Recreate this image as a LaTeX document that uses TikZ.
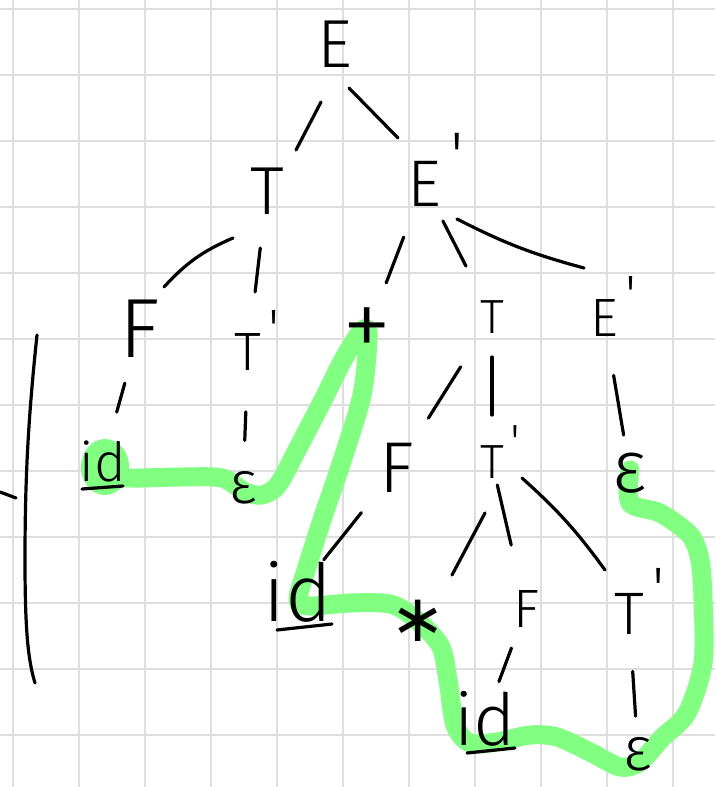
\documentclass[tikz,border=0pt]{standalone}
\usepackage{fontspec}
\setmainfont{Fira Sans Light}
\newfontfamily\dejavu{DejaVu Sans}
\usepackage{xcolor}
\usetikzlibrary{calc}
\definecolor{hilite}{RGB}{128,255,128}
\definecolor{gridgray}{RGB}{222,222,222}
\newcommand{\pr}{\rlap{\hspace{.14em}\smash{\raisebox{.42em}{\textquotesingle}}}}
\tikzset{
  sym/.style={font=\fontsize{#1}{#1}\selectfont, inner sep=0pt},
  sym/.default=58,
  pen/.style={line width=3.2pt, line cap=round, line join=round, draw=black},
  edge/.style={pen},
  gridln/.style={line width=1.8pt, draw=gridgray},
  hl/.style={line width=19pt, draw=hilite, line cap=round, line join=round},
}

\begin{document}
\begin{tikzpicture}[x=1pt, y=-1pt]
  \useasboundingbox (0,0) rectangle (715,787);
  \fill[white] (0,0) rectangle (715,787);
  \foreach \gx in {13,79,...,673} \draw[gridln] (\gx,0) -- (\gx,787);
  \foreach \gy in {9,75,...,735} \draw[gridln] (0,\gy) -- (715,\gy);

  \fill[hilite] (105,467) ellipse (24 and 28);
  \draw[hl] plot[smooth, tension=.5] coordinates {(110,474) (130,478) (180,477) (222,478)
    (245,492) (262,495) (278,485) (297,450) (323,400) (343,360) (360,333) (368,333) (362,395)
    (340,467) (323,517) (307,567) (298,600) (310,606) (350,603) (390,604) (413,617) (440,645)
    (448,680) (455,725) (470,743) (497,742) (530,735) (557,737) (590,752) (620,767) (640,762)
    (662,738) (687,713) (703,663) (703,600) (700,560) (690,535) (660,513) (630,503) (630,470)};

  \node[sym=68] (E0) at (335,44) {E};
  \node[sym=68] (T1) at (267,191) {T};
  \node[sym=66] (E1) at (424,184) {E\pr};
  \node[sym=84] (F2) at (140,329) {F};
  \node[sym=54] (T2) at (248,352) {T\pr};
  \node[sym=100] (plus) at (367,333) {+};
  \node[sym=48] (T3) at (492,317) {T};
  \node[sym=54] (E3) at (604,318) {E\pr};
  \node[sym=54] (id1) at (103,461) {id};
  \node[sym=60] (eps1) at (243,488) {ε};
  \node[sym=72] (F4) at (397,468) {F};
  \node[sym=48] (T4) at (492,462) {T\pr};
  \node[sym=74] (eps4) at (630,473) {ε};
  \node[sym=80] (id5) at (298,592) {id};
  \node[sym=66] (star5) at (418,621) {\dejavu ∗};
  \node[sym=54] (F5) at (526,609) {F};
  \node[sym=60] (T5) at (629,614) {T\pr};
  \node[sym=72] (id6) at (485,719) {id};
  \node[sym=62] (eps6) at (638,754) {ε};

  \draw[edge] ([shift={(-14,58)}]E0.center) -- ([shift={(29,-41)}]T1.center);
  \draw[edge] ([shift={(14,44)}]E0.center) -- ([shift={(-26,-46)}]E1.center);
  \draw[edge] ([shift={(-34,47)}]T1.center) to[bend right=12] ([shift={(24,-42)}]F2.center);
  \draw[edge] ($(T1)!.354!(T2)$) -- ($(T1)!.627!(T2)$);
  \draw[edge] ($(E1)!.356!(plus)$) -- ($(E1)!.664!(plus)$);
  \draw[edge] ($(E1)!.278!(T3)$) -- ($(E1)!.617!(T3)$);
  \draw[edge] ([shift={(33,35)}]E1.center) to[bend right=6] ([shift={(-20,-50)}]E3.center);
  \draw[edge] ($(F2)!.41!(id1)$) -- ($(F2)!.63!(id1)$);
  \draw[edge] ($(T2)!.44!(eps1)$) -- ($(T2)!.65!(eps1)$);
  \draw[edge] ($(T3)!.33!(F4)$) -- ($(T3)!.67!(F4)$);
  \draw[edge] ($(T3)!.276!(T4)$) -- ($(T3)!.676!(T4)$);
  \draw[edge] ($(E3)!.37!(eps4)$) -- ($(E3)!.755!(eps4)$);
  \draw[edge] ($(F4)!.36!(id5)$) -- ($(F4)!.74!(id5)$);
  \draw[edge] ([shift={(-7,51)}]T4.center) -- ([shift={(34,-46)}]star5.center);
  \draw[edge] ($(T4)!.156!(F5)$) -- ($(T4)!.565!(F5)$);
  \draw[edge] ([shift={(30,16)}]T4.center) to[bend left=6] ([shift={(-24,-44)}]T5.center);
  \draw[edge] ($(F5)!.355!(id6)$) -- ($(F5)!.66!(id6)$);
  \draw[edge] ($(T5)!.41!(eps6)$) -- ($(T5)!.73!(eps6)$);

  \draw[pen] ([shift={(-21,28)}]id1.center) -- ([shift={(20,25)}]id1.center);
  \draw[pen] ([shift={(-21,38)}]id5.center) -- ([shift={(34,32)}]id5.center);
  \draw[pen] ([shift={(-18,34)}]id6.center) -- ([shift={(30,29)}]id6.center);

  \draw[pen] (37,335) .. controls (28,420) and (25,480) .. (25,560) .. controls (25,630) and (28,660) .. (35,683);
  \draw[pen] (0,492) -- (16,498);
\end{tikzpicture}
\end{document}
